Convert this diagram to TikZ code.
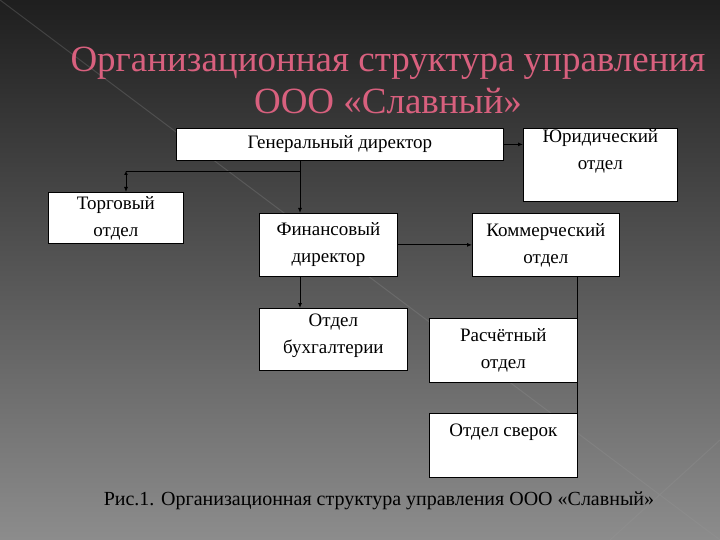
\documentclass[tikz,border=0pt]{standalone}
\usepackage{fontspec}
\setmainfont{Liberation Serif}
\newfontfamily\ser{Liberation Serif}
\usetikzlibrary{arrows.meta}
\definecolor{titlec}{HTML}{D8607E}
\begin{document}
\begin{tikzpicture}[x=1pt,y=-1pt,
  box/.style={draw=black,fill=white,line width=0.8pt,inner sep=0pt,align=center,font=\ser\fontsize{19}{27}\selectfont},
  conn/.style={line width=0.9pt,-{Latex[length=5pt,width=4pt]}},
  plain/.style={line width=0.9pt}]
\useasboundingbox (0,0) rectangle (720,540);
\shade[top color=black!88,bottom color=black!45] (0,0) rectangle (720,540);
\draw[white!60!black,opacity=0.25,line width=1pt] (0,0) -- (720,540) (720,440) -- (610,540);
\node (title) [font=\ser\fontsize{37}{42}\selectfont,text=titlec,align=center] at (388,80) {Организационная структура управления\\ООО «Славный»};
\node (gen) [box,minimum width=327,minimum height=32,anchor=north west] at (176,128) {Генеральный директор};
\node (yur) [box,minimum width=154,minimum height=73,anchor=north west,text depth=30pt] at (523,128) {Юридический\\отдел};
\node (torg) [box,minimum width=135,minimum height=51,anchor=north west] at (48,192) {Торговый\\отдел};
\node (fin) [box,minimum width=138,minimum height=63,anchor=north west] at (259,213) {Финансовый\\директор};
\node (komm) [box,minimum width=147,minimum height=63,anchor=north west] at (472,213) {Коммерческий\\отдел};
\node (buh) [box,minimum width=148,minimum height=62,anchor=north west,text depth=12pt] at (259,308) {Отдел\\бухгалтерии};
\node (ras) [box,minimum width=148,minimum height=64,anchor=north west] at (429,318) {Расчётный\\отдел};
\node (sv) [box,minimum width=148,minimum height=64,anchor=north west,text depth=30pt] at (429,413) {Отдел сверок};
\node (cap) [font=\ser\fontsize{20}{24}\selectfont,text=black] at (379,501) {Рис.1. Организационная структура управления ООО «Славный»};
\coordinate (br) at (300,171);
\coordinate (brl) at (126,171);
\draw[conn] (gen.south -| br) -- (fin.north -| br);
\draw[plain] (br) -- (brl);
\draw[line width=0.9pt,{Latex[length=4pt,width=4pt]}-{Latex[length=5pt,width=4pt]}] (brl) -- (torg.north -| brl);
\draw[conn] (gen.east) -- (yur.west |- gen.east);
\draw[conn] (fin.east) -- (komm.west |- fin.east);
\draw[conn] (fin.south -| br) -- (buh.north -| br);
\draw[plain] (komm.south -| ras.east) -- (sv.south east);
\end{tikzpicture}
\end{document}
